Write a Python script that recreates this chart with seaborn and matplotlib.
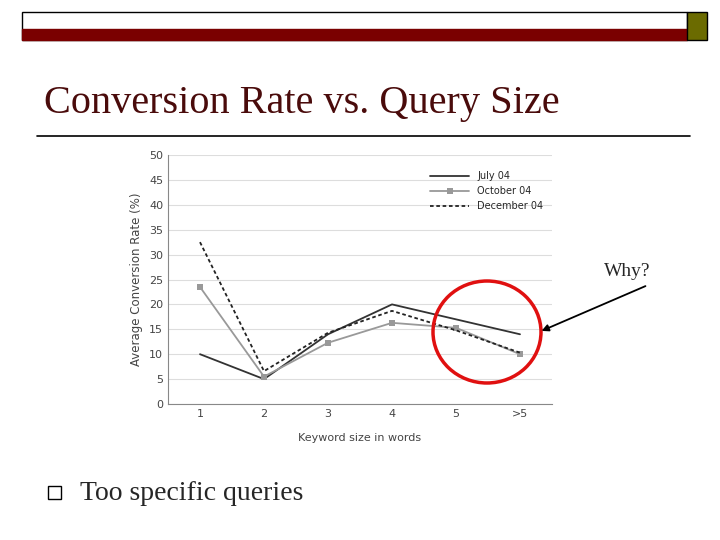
import matplotlib
matplotlib.use("Agg")
import matplotlib.pyplot as plt
import matplotlib.patches as mp
import seaborn as sns
import pandas as pd

categories = ["1", "2", "3", "4", "5", ">5"]
july = [10, 5, 14, 20, 17, 14]
october = [23.5, 5.5, 12.3, 16.3, 15.3, 10]
december = [32.5, 6.6, 14.3, 18.7, 14.8, 10.3]
series_names = ["July 04", "October 04", "December 04"]

sns.set_style("white")
fig = plt.figure(figsize=(7.2, 5.4), dpi=100)
ax = fig.add_axes([168/720, 136/540, 384/720, 249/540])
styles = [
    dict(color="#333333", linestyle="-", marker=None),
    dict(color="#999999", linestyle="-", marker="s", markersize=5, markeredgewidth=0),
    dict(color="#222222", linestyle=(0, (2, 1.5)), marker=None),
]
for name, vals, st in zip(series_names, [july, october, december], styles):
    d = pd.DataFrame({"x": range(len(vals)), "v": vals})
    sns.lineplot(data=d, x="x", y="v", label=name, linewidth=1.3, ax=ax, **st)
ax.set_xlim(-0.5, 5.5)
ax.set_ylim(0, 50)
ax.set_yticks(range(0, 51, 5))
ax.set_xticks(range(6))
ax.set_xticklabels(categories)
ax.tick_params(labelsize=8, colors="#444444", length=0)
ax.yaxis.grid(True, color="#dddddd", linewidth=0.8)
for s in ["top", "right"]:
    ax.spines[s].set_visible(False)
for s in ["left", "bottom"]:
    ax.spines[s].set_color("#888888")
ax.set_xlabel("Keyword size in words", fontsize=8, color="#444444", labelpad=10)
ax.set_ylabel("Average Conversion Rate (%)", fontsize=8.5, color="#444444")
ax.legend(title=None, frameon=False, fontsize=7, loc="upper right",
          bbox_to_anchor=(1.0, 0.97), handlelength=4)

ov = fig.add_axes([0, 0, 1, 1], zorder=10)
ov.set_xlim(0, 720); ov.set_ylim(540, 0); ov.axis("off")
ov.patch.set_alpha(0)
ov.add_patch(mp.Rectangle((22, 12), 665, 28, fill=False, edgecolor="black", lw=1))
ov.add_patch(mp.Rectangle((22, 29), 665, 11, color="#7a0000"))
ov.add_patch(mp.Rectangle((687, 12), 20, 28, facecolor="#6b6b00", edgecolor="black", lw=1))
ov.text(44, 104, "Conversion Rate vs. Query Size", family="Liberation Serif",
        fontsize=29, color="#4a0b0b", va="center")
ov.plot([37, 690], [136, 136], color="black", lw=1.2)
ov.add_patch(mp.Ellipse((487, 332), 108, 102, fill=False, edgecolor="#e01010", lw=2.5))
ov.annotate("", xy=(539, 332), xytext=(648, 285),
            arrowprops=dict(arrowstyle="-|>", color="black", lw=1.3))
ov.text(604, 271, "Why?", family="Liberation Serif", fontsize=14, va="center")
ov.add_patch(mp.Rectangle((48, 486), 13, 13, fill=False, edgecolor="black", lw=1))
ov.text(80, 493, "Too specific queries", family="Liberation Serif", fontsize=20, va="center")

fig.savefig("out.png", dpi=100)
